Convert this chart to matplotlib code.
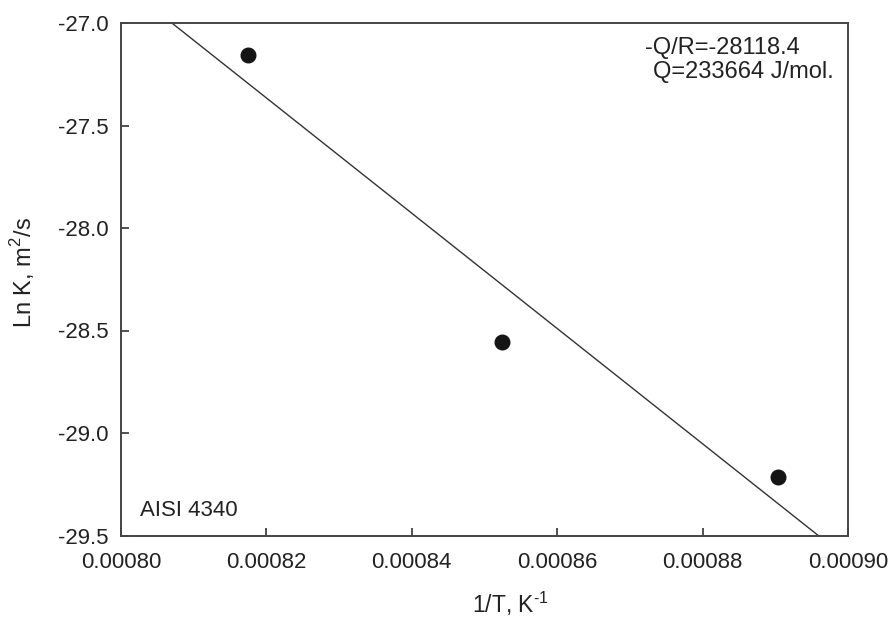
import numpy as np
import matplotlib
matplotlib.use("Agg")
import matplotlib.pyplot as plt

# ==========================
# Data
# ==========================

inv_T = [0.0008175, 0.0008524, 0.0008904]
ln_K = [-27.156, -28.554, -29.215]

# Arrhenius fit: ln K = slope * (1/T) + intercept
slope = -28118.4
intercept = -4.3085

x_ticks = [0.00080, 0.00082, 0.00084, 0.00086, 0.00088, 0.00090]
y_ticks = [-27.0, -27.5, -28.0, -28.5, -29.0, -29.5]

# ==========================
# Plot
# ==========================

plt.rcParams["font.family"] = ["Liberation Sans", "DejaVu Sans"]
plt.rcParams["mathtext.fontset"] = "custom"
plt.rcParams["mathtext.rm"] = "Liberation Sans"

fig = plt.figure(figsize=(8.92, 6.17), dpi=100)
ax = fig.add_axes([121 / 892, 1 - 535.5 / 617, 727 / 892, 512.5 / 617])

line_x = np.array([0.00080, 0.00090])
ax.plot(line_x, slope * line_x + intercept, color="#333333", lw=1.0)

ax.plot(inv_T, ln_K, "o", color="#151515", markersize=10.5)

ax.set_xlim(0.00080, 0.00090)
ax.set_ylim(-29.5, -27.0)

ax.set_xticks(x_ticks)
ax.set_xticklabels([f"{v:.5f}" for v in x_ticks])
ax.set_yticks(y_ticks)
ax.set_yticklabels([f"{v:.1f}" for v in y_ticks])

ax.tick_params(direction="in", length=6, width=1.2, colors="#333333",
               labelcolor="#222222", labelsize=16)
ax.tick_params(axis="x", pad=12)
ax.tick_params(axis="y", pad=9)

for s in ax.spines.values():
    s.set_color("#444444")
    s.set_linewidth(1.4)

ax.set_xlabel(r"1/T, K$^{\text{-1}}$", fontsize=16.5, color="#222222")
ax.xaxis.set_label_coords(0.535, -0.106)
ax.set_ylabel(r"Ln K, m$^{\text{2}}$/s", fontsize=17, color="#222222")
ax.yaxis.set_label_coords(-0.115, 0.514)

ax.text(0.721, 0.951, "-Q/R=-28118.4", transform=ax.transAxes,
        fontsize=17, color="#222222", va="center", ha="left")
ax.text(0.732, 0.904, "Q=233664 J/mol.", transform=ax.transAxes,
        fontsize=17, color="#222222", va="center", ha="left")
ax.text(0.026, 0.048, "AISI 4340", transform=ax.transAxes,
        fontsize=16, color="#222222", va="center", ha="left")

fig.savefig("out.png", dpi=100)
plt.close(fig)
